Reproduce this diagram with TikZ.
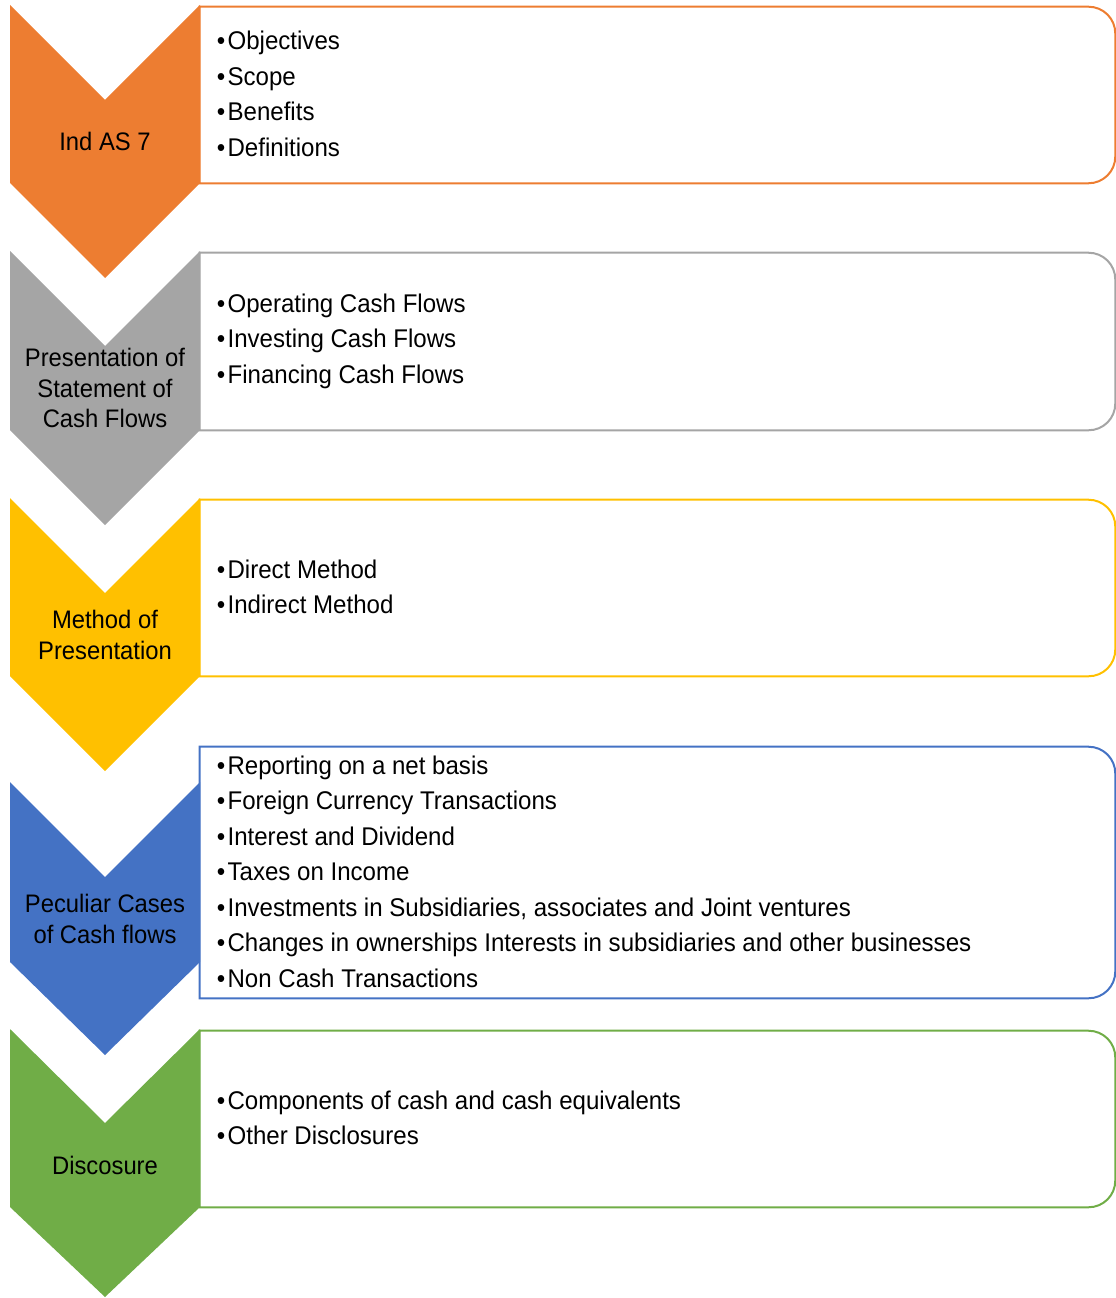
\documentclass[tikz,border=0pt]{standalone}
\usepackage{fontspec}
\setmainfont[FakeStretch=0.94]{Liberation Sans}
\definecolor{cOr}{HTML}{ED7D31}
\definecolor{cGy}{HTML}{A5A5A5}
\definecolor{cYl}{HTML}{FFC000}
\definecolor{cBl}{HTML}{4472C4}
\definecolor{cGn}{HTML}{70AD47}
\newcommand{\bul}{\makebox[10pt][l]{\hspace{2pt}•}}
\begin{document}
\begin{tikzpicture}[x=0.75pt,y=-0.75pt,
  lbl/.style={align=center, font=\fontsize{19}{22.9}\selectfont, inner sep=0, text=black},
  items/.style={align=left, anchor=west, font=\fontsize{19.2}{26.6}\selectfont, inner sep=0, text=black},
  boxnode/.style={inner sep=0, minimum width=686.25pt},
  frame/.style={line width=1.5pt}]
\useasboundingbox (0,0) rectangle (1116,1298);

% chevrons
\fill[cOr] (10,5) -- (105,100) -- (200,5) -- (200,183) -- (105,278) -- (10,183) -- cycle;
\fill[cGy] (10,251) -- (105,346) -- (200,251) -- (200,430) -- (105,525) -- (10,430) -- cycle;
\fill[cYl] (10,498) -- (105,593) -- (200,498) -- (200,676) -- (105,771) -- (10,676) -- cycle;
\fill[cBl] (10,782) -- (105,877) -- (200,782) -- (200,962) -- (105,1055) -- (10,962) -- cycle;
\fill[cGn] (10,1029) -- (105,1123) -- (200,1029) -- (200,1207) -- (105,1297) -- (10,1207) -- cycle;

% boxes
\node[boxnode, minimum height=132pt] (b1) at (657.5,95) {};
\node[boxnode, minimum height=132.75pt] (b2) at (657.5,341.5) {};
\node[boxnode, minimum height=132pt] (b3) at (657.5,588) {};
\node[boxnode, minimum height=188.25pt] (b4) at (657.5,872.5) {};
\node[boxnode, minimum height=132pt] (b5) at (657.5,1119) {};

\foreach \b/\c in {b1/cOr, b2/cGy, b3/cYl, b4/cBl, b5/cGn}{
  \draw[frame, draw=\c, rounded corners=20pt] (\b.north) -- (\b.north east) -- (\b.south east) -- (\b.south) [sharp corners] -- (\b.south west) -- (\b.north west) -- cycle;
}

% labels
\node[lbl] (l1) at (105,141) {Ind AS 7};
\node[lbl] (l2) at (105,388) {Presentation of\\Statement of\\Cash Flows};
\node[lbl] (l3) at (105,635) {Method of\\Presentation};
\node[lbl] (l4) at (105,919) {Peculiar Cases\\of Cash flows};
\node[lbl] (l5) at (105,1165) {Discosure};

% items
\node[items] (i1) at (214,94) {\bul Objectives\\\bul Scope\\\bul Benefits\\\bul Definitions};
\node[items] (i2) at (214,341) {\bul Operating Cash Flows\\\bul Investing Cash Flows\\\bul Financing Cash Flows};
\node[items] (i3) at (214,587) {\bul Direct Method\\\bul Indirect Method};
\node[items] (i4) at (214,871.5) {\bul Reporting on a net basis\\\bul Foreign Currency Transactions\\\bul Interest and Dividend\\\bul Taxes on Income\\\bul Investments in Subsidiaries, associates and Joint ventures\\\bul Changes in ownerships Interests in subsidiaries and other businesses\\\bul Non Cash Transactions};
\node[items] (i5) at (214,1118) {\bul Components of cash and cash equivalents\\\bul Other Disclosures};
\end{tikzpicture}
\end{document}
